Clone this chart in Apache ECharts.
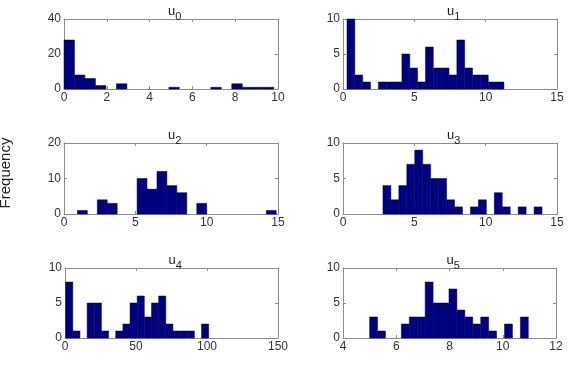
<!DOCTYPE html>
<html>
<head>
<meta charset="utf-8">
<script src="https://cdn.jsdelivr.net/npm/echarts@6/dist/echarts.min.js"></script>
<style>
  html, body { margin: 0; padding: 0; background: #fff; }
  #chart { width: 569px; height: 384px; }
</style>
</head>
<body>
<div id="chart"></div>
<script>
// histogram counts (20 bins each) and the data range they cover
var counts0 = [28, 8, 6, 2, 0, 3, 0, 0, 0, 0, 1, 0, 0, 0, 1, 0, 3, 1, 1, 1];
var range0 = [0, 9.8];
var counts1 = [10, 2, 1, 0, 1, 1, 1, 5, 3, 1, 6, 3, 3, 2, 7, 3, 2, 2, 1, 1];
var range1 = [0.28, 11.28];
var counts2 = [1, 0, 4, 3, 0, 0, 10, 7, 12, 8, 6, 0, 3, 0, 0, 0, 0, 0, 0, 1];
var range2 = [0.94, 14.88];
var counts3 = [4, 2, 4, 7, 9, 7, 5, 5, 2, 1, 0, 1, 2, 0, 3, 1, 0, 1, 0, 1];
var range3 = [2.8, 13.95];
var counts4 = [8, 1, 0, 5, 5, 1, 0, 1, 2, 5, 6, 3, 5, 6, 2, 1, 1, 1, 0, 2];
var range4 = [0.47, 101.2];
var counts5 = [3, 1, 0, 0, 2, 3, 3, 8, 5, 5, 7, 4, 3, 2, 3, 1, 0, 2, 0, 3];
var range5 = [5.0, 10.96];

// axis limits: x [min, max, step], y [max, step]
var xTicks0 = [0, 10, 2], yTicks0 = [40, 20];
var xTicks1 = [0, 15, 5], yTicks1 = [10, 5];
var xTicks2 = [0, 15, 5], yTicks2 = [20, 10];
var xTicks3 = [0, 15, 5], yTicks3 = [10, 5];
var xTicks4 = [0, 150, 50], yTicks4 = [10, 5];
var xTicks5 = [4, 12, 2], yTicks5 = [10, 5];

var titles = ['0', '1', '2', '3', '4', '5'];

var panels = [
  {counts: counts0, range: range0, x: xTicks0, y: yTicks0, box: [64, 19, 214, 70]},
  {counts: counts1, range: range1, x: xTicks1, y: yTicks1, box: [343, 19, 214, 70]},
  {counts: counts2, range: range2, x: xTicks2, y: yTicks2, box: [64, 143, 214, 71]},
  {counts: counts3, range: range3, x: xTicks3, y: yTicks3, box: [343, 143, 214, 71]},
  {counts: counts4, range: range4, x: xTicks4, y: yTicks4, box: [65, 268, 213, 70]},
  {counts: counts5, range: range5, x: xTicks5, y: yTicks5, box: [343, 268, 213, 70]}
];

var FONT = 'Liberation Sans';
var FRAME = '#8c8c8c';
var grid = [], xAxis = [], yAxis = [], series = [], title = [];

panels.forEach(function (p, i) {
  grid.push({left: p.box[0], top: p.box[1], width: p.box[2], height: p.box[3]});
  var line = {show: true, onZero: false, lineStyle: {color: FRAME, width: 1}};
  var tick = {show: true, inside: true, length: 3, lineStyle: {color: FRAME, width: 1}};
  var label = {color: '#333', fontFamily: FONT, fontSize: 12, margin: 3,
    showMinLabel: true, showMaxLabel: true};
  // bottom x
  xAxis.push({
    gridIndex: i, type: 'value', min: p.x[0], max: p.x[1], interval: p.x[2],
    axisLine: line, splitLine: {show: false}, axisTick: tick, axisLabel: label
  });
  // top x, ticks only
  xAxis.push({
    gridIndex: i, type: 'value', position: 'top', min: p.x[0], max: p.x[1], interval: p.x[2],
    axisLine: line, splitLine: {show: false}, axisTick: tick, axisLabel: {show: false}
  });
  yAxis.push({
    gridIndex: i, type: 'value', min: 0, max: p.y[0], interval: p.y[1],
    axisLine: line, splitLine: {show: false}, axisTick: tick, axisLabel: label
  });
  yAxis.push({
    gridIndex: i, type: 'value', position: 'right', min: 0, max: p.y[0], interval: p.y[1],
    axisLine: line, splitLine: {show: false}, axisTick: tick, axisLabel: {show: false}
  });

  var w = (p.range[1] - p.range[0]) / p.counts.length;
  var data = p.counts.map(function (c, k) {
    return [p.range[0] + k * w, p.range[0] + (k + 1) * w, c];
  }).filter(function (d) { return d[2] > 0; });

  series.push({
    type: 'custom',
    xAxisIndex: i * 2, yAxisIndex: i * 2,
    data: data,
    renderItem: function (params, api) {
      var a = api.coord([api.value(0), api.value(2)]);
      var b = api.coord([api.value(1), 0]);
      return {
        type: 'rect',
        shape: {x: a[0], y: a[1], width: b[0] - a[0], height: b[1] - a[1]},
        style: {fill: '#000080', stroke: '#00004a', lineWidth: 0.5}
      };
    }
  });

  title.push({
    text: '{u|u}{s|' + titles[i] + '}',
    left: p.box[0] + p.box[2] / 2 - 8,
    top: p.box[1] - 19,
    textStyle: {
      fontWeight: 'normal',
      rich: {
        u: {fontFamily: FONT, fontSize: 13, fontWeight: 'normal', color: '#222',
          verticalAlign: 'top', padding: [0, 0, 4, 0]},
        s: {fontFamily: FONT, fontSize: 11, fontWeight: 'normal', color: '#222',
          verticalAlign: 'bottom', padding: [6, 0, 0, 0]}
      }
    }
  });
});

var chart = echarts.init(document.getElementById('chart'));
chart.setOption({
  animation: false,
  title: title,
  grid: grid,
  xAxis: xAxis,
  yAxis: yAxis,
  series: series,
  graphic: [{
    type: 'text', x: 6, y: 173, rotation: Math.PI / 2,
    style: {text: 'Frequency', fontFamily: FONT, fontSize: 15, fill: '#222',
      align: 'center', verticalAlign: 'middle'}
  }]
});
</script>
</body>
</html>
